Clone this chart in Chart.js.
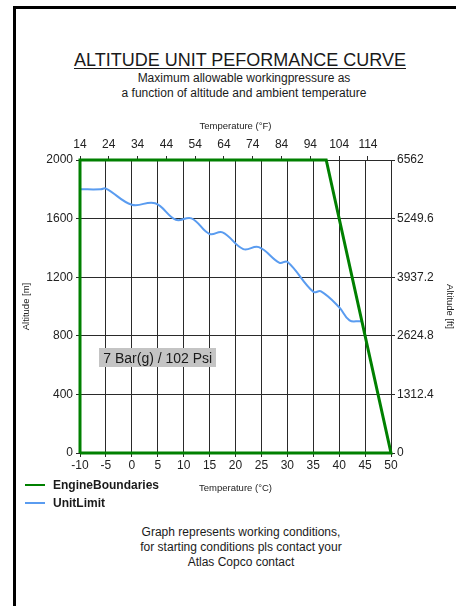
<!DOCTYPE html>
<html>
<head>
<meta charset="utf-8">
<script src="https://cdn.jsdelivr.net/npm/chart.js@4.4.0/dist/chart.umd.min.js"></script>
<style>
  html, body { margin: 0; padding: 0; background: #fff; }
  body { width: 456px; height: 606px; position: relative; overflow: hidden; font-family: Arial, "Liberation Sans", sans-serif; color: #1a1a1a; }
  .frame { position: absolute; left: 13px; top: 6px; width: 600px; height: 700px; border-left: 3px solid #000; border-top: 3px solid #000; }
  .title { position: absolute; left: 0; width: 480px; top: 49px; text-align: center; font-size: 18px; line-height: 22px; text-decoration: underline; text-underline-offset: 2px; }
  .sub { position: absolute; left: 0; width: 488px; top: 71px; text-align: center; font-size: 12px; line-height: 15px; }
  .foot { position: absolute; left: 0; width: 482px; top: 525px; text-align: center; font-size: 12px; line-height: 15px; }
  #chart { position: absolute; left: 0; top: 110px; }
  .legend { position: absolute; left: 25px; top: 476px; font-size: 12px; font-weight: bold; }
  .legend div { height: 18px; line-height: 18px; white-space: nowrap; }
  .legend span.sw { display: inline-block; width: 20px; height: 2px; vertical-align: middle; margin-right: 8px; position: relative; top: -1px; }
</style>
</head>
<body>
<div class="frame"></div>
<div class="title">ALTITUDE UNIT PEFORMANCE CURVE</div>
<div class="sub">Maximum allowable workingpressure as<br>a function of altitude and ambient temperature</div>
<canvas id="chart" width="456" height="400"></canvas>
<div class="legend" id="legend"></div>
<div class="foot">Graph represents working conditions,<br>for starting conditions pls contact your<br>Atlas Copco contact</div>
<script>
// axis ticks
const tempTicks = [-10, -5, 0, 5, 10, 15, 20, 25, 30, 35, 40, 45, 50];
const fahrenheitTicks = [14, 24, 34, 44, 54, 64, 74, 84, 94, 104, 114];
const altitudeTicks = [0, 400, 800, 1200, 1600, 2000];
const feetTicks = [0, 1312.4, 2624.8, 3937.2, 5249.6, 6562];

// engine operating envelope (°C, m)
const engineTemp = [-10, -10, 37.5, 50, -10];
const engineAlt = [0, 2000, 2000, 0, 0];

// unit limit curve (°C, m)
const unitTemp = [-10, -6, -5, 0, 4.5, 8.5, 11.5, 15, 17.5, 21.5, 24.5, 28.5, 30, 35, 36.5, 40, 42, 44, 44.4];
const unitAlt = [1800, 1800, 1805, 1695, 1705, 1592, 1602, 1495, 1506, 1392, 1405, 1298, 1305, 1100, 1103, 995, 905, 900, 900];

// pressure label
const pressureText = '7 Bar(g) / 102 Psi';
const pressureTemp = 5;
const pressureAlt = 650;

const seriesNames = ['EngineBoundaries', 'UnitLimit'];
const seriesColors = ['#008000', '#5a9cf0'];

const toPoints = (xs, ys) => xs.map((x, i) => ({ x: x, y: ys[i] }));
const fixTicks = list => scale => { scale.ticks = list.map(v => ({ value: v })); };
const plain = v => String(v);

const gridColor = '#2a2a2a';
const tickFont = { family: 'Arial, "Liberation Sans", sans-serif', size: 12 };
const titleFont = { family: 'Arial, "Liberation Sans", sans-serif', size: 9.5 };

const pressureLabel = {
  id: 'pressureLabel',
  afterDatasetsDraw(chart) {
    const ctx = chart.ctx;
    const cx = chart.scales.x.getPixelForValue(pressureTemp);
    const cy = chart.scales.y.getPixelForValue(pressureAlt);
    ctx.save();
    ctx.font = '14px Arial, "Liberation Sans", sans-serif';
    const w = ctx.measureText(pressureText).width + 8;
    const h = 19;
    ctx.fillStyle = '#c4c4c4';
    ctx.fillRect(Math.round(cx - w / 2), Math.round(cy - h / 2), Math.round(w), h);
    ctx.fillStyle = '#1a1a1a';
    ctx.textAlign = 'center';
    ctx.textBaseline = 'middle';
    ctx.fillText(pressureText, cx, cy + 1);
    ctx.restore();
  }
};

new Chart(document.getElementById('chart'), {
  type: 'line',
  data: {
    datasets: [
      { label: seriesNames[0], data: toPoints(engineTemp, engineAlt), borderColor: seriesColors[0], borderWidth: 3, tension: 0, pointRadius: 0, fill: false, clip: 6 },
      { label: seriesNames[1], data: toPoints(unitTemp, unitAlt), borderColor: seriesColors[1], borderWidth: 2, tension: 0.4, pointRadius: 0, fill: false }
    ]
  },
  options: {
    responsive: false,
    animation: false,
    layout: { padding: 0 },
    plugins: { legend: { display: false }, tooltip: { enabled: false } },
    scales: {
      x: {
        type: 'linear', position: 'bottom', min: -10, max: 50,
        afterBuildTicks: fixTicks(tempTicks),
        afterFit: s => { s.height = 57; },
        ticks: { color: '#222', font: tickFont, padding: 1, maxRotation: 0, autoSkip: false, callback: plain },
        grid: { color: gridColor, tickColor: gridColor, tickLength: 4 },
        border: { color: gridColor },
        title: { display: true, text: 'Temperature (°C)', color: '#222', font: titleFont, padding: { top: 0, bottom: 16 } }
      },
      y: {
        type: 'linear', position: 'left', min: 0, max: 2000,
        afterBuildTicks: fixTicks(altitudeTicks),
        afterFit: s => { s.width = 80; },
        ticks: { color: '#222', font: tickFont, padding: 3, autoSkip: false, callback: plain },
        grid: { color: gridColor, tickColor: gridColor, tickLength: 4 },
        border: { color: gridColor },
        title: { display: true, text: 'Altitude [m]', color: '#222', font: titleFont, padding: { top: 21, bottom: 0 } }
      },
      x2: {
        type: 'linear', position: 'top', min: 14, max: 122,
        afterBuildTicks: fixTicks(fahrenheitTicks),
        afterFit: s => { s.height = 50; },
        ticks: { color: '#222', font: tickFont, padding: 4, maxRotation: 0, autoSkip: false, callback: plain },
        grid: { drawOnChartArea: false, tickColor: gridColor, tickLength: 4 },
        border: { color: gridColor },
        title: { display: true, text: 'Temperature (°F)', color: '#222', font: titleFont, padding: { top: 11, bottom: 0 } }
      },
      y2: {
        type: 'linear', position: 'right', min: 0, max: 6562,
        afterBuildTicks: fixTicks(feetTicks),
        afterFit: s => { s.width = 65; },
        ticks: { color: '#222', font: tickFont, padding: 2, autoSkip: false, callback: plain },
        grid: { drawOnChartArea: false, tickColor: gridColor, tickLength: 4 },
        border: { color: gridColor },
        title: { display: true, text: 'Altitude [ft]', color: '#222', font: titleFont, padding: { top: 0.5, bottom: 0 } }
      }
    }
  },
  plugins: [pressureLabel]
});

// legend below the plot
const legendEl = document.getElementById('legend');
seriesNames.forEach((name, i) => {
  legendEl.innerHTML += `<div><span class="sw" style="background:${seriesColors[i]}"></span>${name}</div>`;
});
</script>
</body>
</html>
